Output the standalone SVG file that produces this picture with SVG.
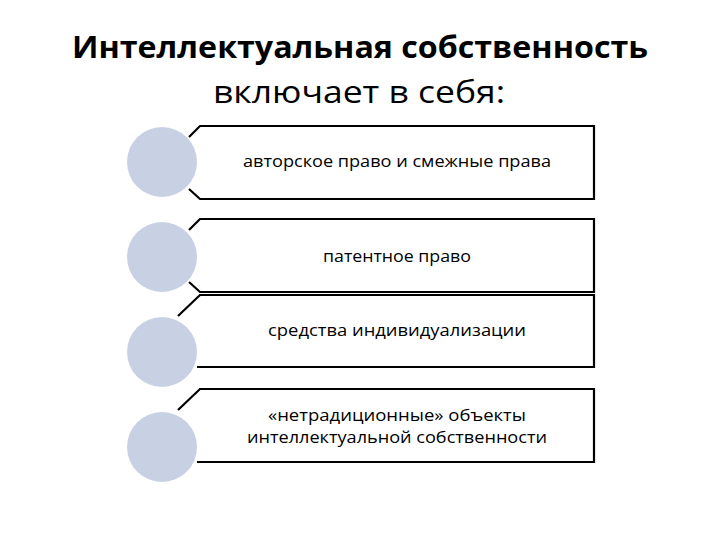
<svg xmlns="http://www.w3.org/2000/svg" width="720" height="540" viewBox="0 0 720 540">
<style>
.t{font-family:"Open Sans","Liberation Sans",sans-serif;fill:#000}
.title{font-size:31px;text-anchor:middle}
.lbl{font-size:16px;text-anchor:middle}
.c{fill:#c8d1e3}
.bl{fill:none;stroke:#000;stroke-width:2.2}
</style>
<rect width="720" height="540" fill="#fff"/>
<g id="title">
<text class="t title" x="360" y="58" font-weight="bold" textLength="576" lengthAdjust="spacingAndGlyphs">Интеллектуальная собственность</text>
<text class="t title" x="359" y="103" textLength="292" lengthAdjust="spacingAndGlyphs">включает в себя:</text>
</g>
<g id="node1">
<path class="bl" d="M189,137 L200,126 L594,126 L594,199 L200,199 L189,189"/>
<circle class="c" cx="162" cy="162" r="35"/>
<text class="t lbl" x="397" y="167" textLength="308" lengthAdjust="spacingAndGlyphs">авторское право и смежные права</text>
</g>
<g id="node2">
<path class="bl" d="M189,230 L200,219 L594,219 L594,292 L200,292 L189,282"/>
<circle class="c" cx="162" cy="257" r="35"/>
<text class="t lbl" x="397" y="262" textLength="148" lengthAdjust="spacingAndGlyphs">патентное право</text>
</g>
<g id="node3">
<path class="bl" d="M178,316 L200,295 L594,295 L594,367 L197,367"/>
<circle class="c" cx="162" cy="352" r="35"/>
<text class="t lbl" x="397" y="336" textLength="258" lengthAdjust="spacingAndGlyphs">средства индивидуализации</text>
</g>
<g id="node4">
<path class="bl" d="M178,410 L200,389 L594,389 L594,462 L197,462"/>
<circle class="c" cx="162" cy="447" r="35"/>
<text class="t lbl" x="397" y="421" textLength="258" lengthAdjust="spacingAndGlyphs">«нетрадиционные» объекты</text>
<text class="t lbl" x="397" y="443" textLength="300" lengthAdjust="spacingAndGlyphs">интеллектуальной собственности</text>
</g>
<g id="connectors"></g>
</svg>
